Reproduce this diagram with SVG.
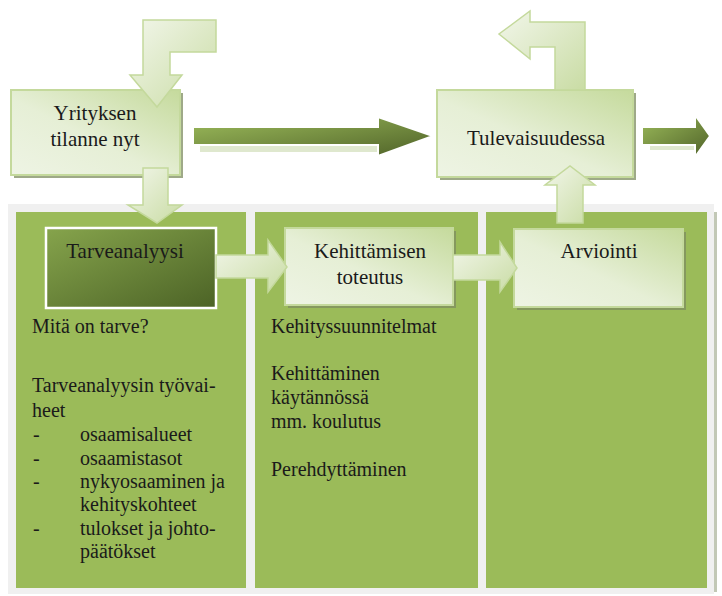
<svg xmlns="http://www.w3.org/2000/svg" width="722" height="596" viewBox="0 0 722 596">
<defs>
<style>
.lbl{font-family:"Liberation Serif","Times New Roman",serif;font-size:21px;fill:#1a1a1a;text-anchor:middle}
.txt{font-family:"Liberation Serif","Times New Roman",serif;font-size:20px;fill:#1a1a1a}
.col{fill:#9bbb59}
.box{fill:url(#gBox);stroke:#c4d99c;stroke-width:2}
.shadow{fill:#7d8c60;opacity:0.75}
.darr{fill:url(#gDark);stroke:#ffffff;stroke-width:2;stroke-linejoin:miter}
.larr{fill:url(#gLight);stroke:#c4d99c;stroke-width:1.5;stroke-linejoin:miter}
.ashadow{fill:#c9d8ad;opacity:0.6}
</style>
<linearGradient id="gBox" x1="1" y1="0" x2="0" y2="1">
<stop offset="0" stop-color="#c5da9c"/>
<stop offset="0.55" stop-color="#e6efd6"/>
<stop offset="1" stop-color="#eef4e4"/>
</linearGradient>
<linearGradient id="gDark" x1="0" y1="0" x2="1" y2="1">
<stop offset="0" stop-color="#9cbb5b"/>
<stop offset="1" stop-color="#4f6228"/>
</linearGradient>
<linearGradient id="gTarve" x1="0" y1="0" x2="1" y2="1">
<stop offset="0" stop-color="#86a44c"/>
<stop offset="1" stop-color="#4c6326"/>
</linearGradient>
<linearGradient id="gLight" x1="0" y1="0" x2="1" y2="1">
<stop offset="0" stop-color="#f2f6ea"/>
<stop offset="1" stop-color="#c9dca4"/>
</linearGradient>
</defs>

<g id="panel">
<rect x="8" y="204" width="706" height="390" fill="#f0f0f0"/>
<rect x="714" y="212" width="3" height="380" fill="#9aa386" opacity="0.6"/>
</g>
<g id="column-1"><rect class="col" x="16" y="212" width="230" height="376"/></g>
<g id="column-2"><rect class="col" x="255" y="212" width="223" height="376"/></g>
<g id="column-3"><rect class="col" x="486" y="212" width="221" height="376"/></g>

<g id="yrityksen">
<rect class="shadow" x="14" y="93" width="169" height="85"/>
<rect class="box" x="11" y="90" width="169" height="85"/>
<text class="lbl" x="95" y="120" font-size="22">Yrityksen</text>
<text class="lbl" x="95" y="146" font-size="22">tilanne nyt</text>
</g>

<g id="tulevaisuudessa">
<rect class="shadow" x="440" y="93" width="196" height="87"/>
<rect class="box" x="437" y="90" width="196" height="87"/>
<text class="lbl" x="536" y="145">Tulevaisuudessa</text>
</g>

<g id="tarveanalyysi">
<rect x="46" y="228" width="170" height="80" fill="url(#gTarve)" stroke="#ffffff" stroke-width="2.5"/>
<text class="lbl" x="125" y="258">Tarveanalyysi</text>
</g>

<g id="kehittamisen">
<rect class="shadow" x="288" y="231" width="168" height="77"/>
<rect class="box" x="285" y="228" width="168" height="77"/>
<text class="lbl" x="370" y="258">Kehittämisen</text>
<text class="lbl" x="370" y="284">toteutus</text>
</g>

<g id="arviointi">
<rect class="shadow" x="517" y="232" width="169" height="78"/>
<rect class="box" x="514" y="229" width="169" height="78"/>
<text class="lbl" x="599" y="258">Arviointi</text>
</g>

<g id="column-1-text" class="txt">
<text x="32" y="333">Mitä on tarve?</text>
<text x="32" y="392">Tarveanalyysin työvai-</text>
<text x="32" y="417">heet</text>
<text x="33" y="441">-</text><text x="80" y="441">osaamisalueet</text>
<text x="33" y="465">-</text><text x="80" y="465">osaamistasot</text>
<text x="33" y="488">-</text><text x="80" y="488">nykyosaaminen ja</text>
<text x="80" y="511">kehityskohteet</text>
<text x="33" y="535">-</text><text x="80" y="535">tulokset ja johto-</text>
<text x="80" y="558">päätökset</text>
</g>

<g id="column-2-text" class="txt">
<text x="271" y="333">Kehityssuunnitelmat</text>
<text x="271" y="380">Kehittäminen</text>
<text x="271" y="404">käytännössä</text>
<text x="271" y="428">mm. koulutus</text>
<text x="271" y="476">Perehdyttäminen</text>
</g>

<g id="connectors">
<!-- shadows -->
<polygon class="ashadow" points="200,146 380,146 380,152 200,152"/>
<polygon class="ashadow" points="650,146 700,146 700,150 650,150"/>
<!-- bent arrow into Yrityksen -->
<polygon class="larr" points="143,20 216,20 216,52 170,52 170,75 182,75 157,107 130,75 143,75"/>
<!-- Yrityksen down to Tarveanalyysi -->
<polygon class="larr" points="143,168 168,168 168,205 182,205 157,223 128,205 143,205"/>
<!-- big arrow to Tulevaisuudessa -->
<polygon class="darr" points="193,127 378,127 378,117 433,136 378,156 378,145 193,145"/>
<!-- arrow out of Tulevaisuudessa -->
<polygon class="darr" points="642,127 695,127 695,115 710,136 695,157 695,145 642,145"/>
<!-- bent arrow up-left from Tulevaisuudessa -->
<polygon class="larr" points="585,90 585,22 530,22 530,11 499,34 530,59 530,47 555,47 555,90"/>
<!-- Arviointi up to Tulevaisuudessa -->
<polygon class="larr" points="557,223 557,185 545,185 570,166 595,185 583,185 583,223"/>
<!-- Tarveanalyysi to Kehittamisen -->
<polygon class="larr" points="216,255 268,255 268,240 287,267 268,292 268,278 216,278"/>
<!-- Kehittamisen to Arviointi -->
<polygon class="larr" points="453,255 500,255 500,242 517,268 500,292 500,280 453,280"/>
</g>
</svg>
